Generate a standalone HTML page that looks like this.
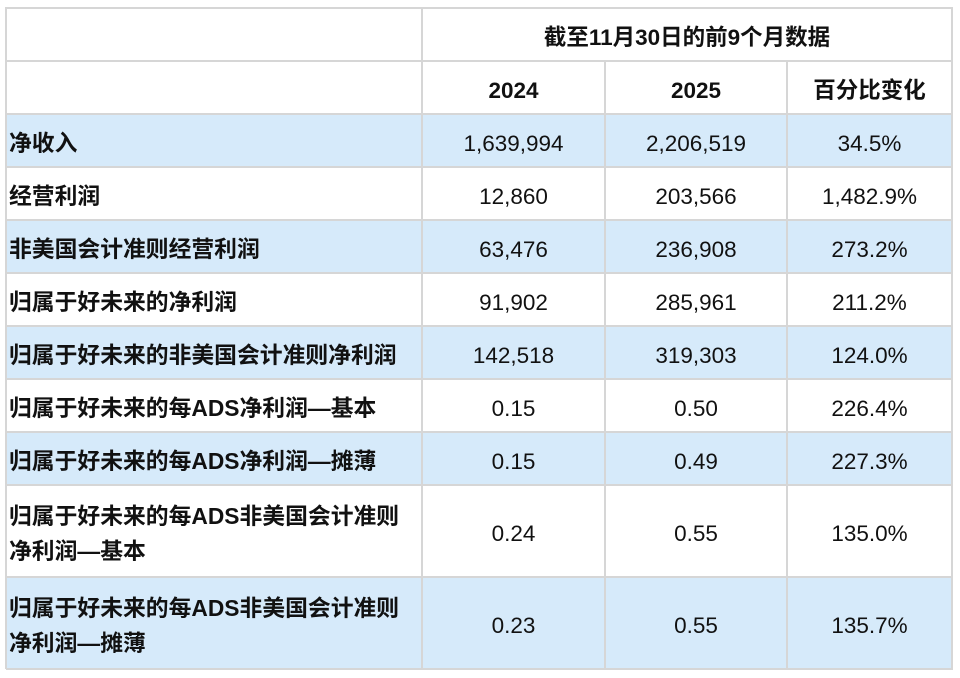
<!DOCTYPE html>
<html><head><meta charset="utf-8"><style>
body{margin:0;background:#fff;width:960px;height:678px;overflow:hidden}
.c{position:absolute;box-sizing:border-box;display:flex;align-items:center;justify-content:center;font-family:"Liberation Sans","Noto Sans CJK SC",sans-serif;font-size:22.5px;color:#111;line-height:35px;padding-top:5px}
.l{justify-content:flex-start;padding-left:3px;font-weight:bold;font-size:22.8px}
.b{font-weight:bold}
.h{position:absolute;background:#d6d6d6}
</style></head><body>
<div id="t"></div>
<script>
var ys=[8,61,114,167,220,273,326,379,432,485,577,669];
var xs=[6,422,605,787,952];
var rows=[
["净收入","1,639,994","2,206,519","34.5%"],
["经营利润","12,860","203,566","1,482.9%"],
["非美国会计准则经营利润","63,476","236,908","273.2%"],
["归属于好未来的净利润","91,902","285,961","211.2%"],
["归属于好未来的非美国会计准则净利润","142,518","319,303","124.0%"],
["归属于好未来的每ADS净利润—基本","0.15","0.50","226.4%"],
["归属于好未来的每ADS净利润—摊薄","0.15","0.49","227.3%"],
["归属于好未来的每ADS非美国会计准则<br>净利润—基本","0.24","0.55","135.0%"],
["归属于好未来的每ADS非美国会计准则<br>净利润—摊薄","0.23","0.55","135.7%"]];
var h='';
function cell(x1,x2,y1,y2,txt,cls,bg){h+='<div class="c '+cls+'" style="left:'+x1+'px;top:'+y1+'px;width:'+(x2-x1)+'px;height:'+(y2-y1)+'px;background:'+bg+'">'+txt+'</div>';}
cell(xs[1],xs[4],ys[0],ys[1],"截至11月30日的前9个月数据","b","#fff");
cell(xs[1],xs[2],ys[1],ys[2],"2024","b","#fff");
cell(xs[2],xs[3],ys[1],ys[2],"2025","b","#fff");
cell(xs[3],xs[4],ys[1],ys[2],"百分比变化","b","#fff");
rows.forEach(function(r,i){var bg=i%2==0?"#d6eafa":"#fff";var y1=ys[i+2],y2=ys[i+3];
cell(xs[0],xs[1],y1,y2,r[0],"l",bg);for(var j=1;j<4;j++)cell(xs[j],xs[j+1],y1,y2,r[j],"",bg);});
ys.forEach(function(y){h+='<div class="h" style="left:6px;top:'+(y-1)+'px;width:947px;height:2px"></div>';});
xs.forEach(function(x,i){var t=(i==2||i==3)?ys[1]:ys[0];h+='<div class="h" style="left:'+(x-1)+'px;top:'+(t-1)+'px;width:2px;height:'+(670-t)+'px"></div>';});
document.getElementById('t').innerHTML=h;
</script>
</body></html>
